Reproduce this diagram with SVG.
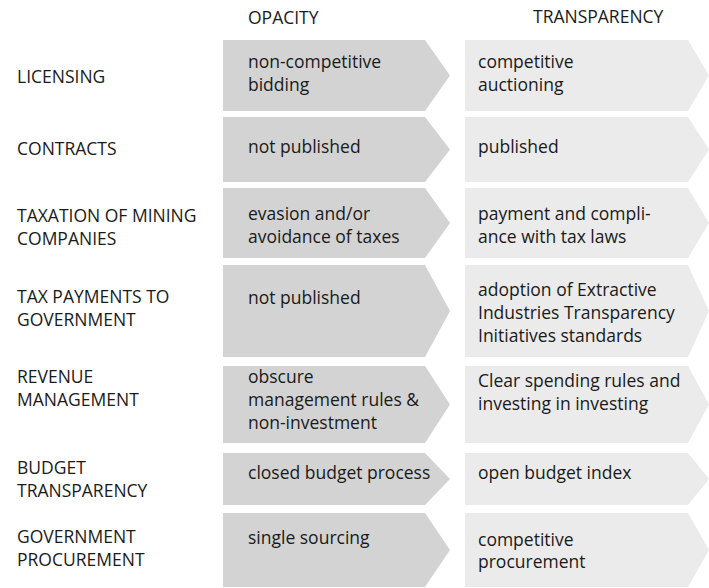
<svg xmlns="http://www.w3.org/2000/svg" width="709" height="588" viewBox="0 0 709 588">
<style>
  text { font-family: "Open Sans", "Noto Sans", "Liberation Sans", sans-serif; font-size: 17.5px; fill: #1a1a1a; }
  .lab { font-size: 17.5px; }
  .hdr { font-size: 17.5px; }
  .op { fill: #d3d3d3; }
  .tr { fill: #ebebeb; }
</style>
<rect width="709" height="588" fill="#ffffff"/>
<g id="headers">
  <text class="hdr" x="248" y="24">OPACITY</text>
  <text class="hdr" x="533" y="23">TRANSPARENCY</text>
</g>
<g id="connectors"/>
<g id="row-licensing">
  <text class="lab" x="17" y="83">LICENSING</text>
  <polygon class="op" points="223,40 425,40 450,75.5 425,111 223,111"/>
  <text x="248" y="68">non-competitive</text>
  <text x="248" y="91">bidding</text>
  <polygon class="tr" points="465,40 688,40 709,75.5 688,111 465,111"/>
  <text x="478" y="68">competitive</text>
  <text x="478" y="91">auctioning</text>
</g>
<g id="row-contracts">
  <text class="lab" x="17" y="155">CONTRACTS</text>
  <polygon class="op" points="223,117 425,117 450,149.5 425,182 223,182"/>
  <text x="248" y="153">not published</text>
  <polygon class="tr" points="465,117 688,117 709,149.5 688,182 465,182"/>
  <text x="478" y="153">published</text>
</g>
<g id="row-taxation">
  <text class="lab" x="17" y="222">TAXATION OF MINING</text>
  <text class="lab" x="17" y="245">COMPANIES</text>
  <polygon class="op" points="223,188 425,188 450,223 425,258 223,258"/>
  <text x="248" y="220">evasion and/or</text>
  <text x="248" y="243">avoidance of taxes</text>
  <polygon class="tr" points="465,188 688,188 709,223 688,258 465,258"/>
  <text x="478" y="220">payment and compli-</text>
  <text x="478" y="243">ance with tax laws</text>
</g>
<g id="row-tax-payments">
  <text class="lab" x="17" y="303">TAX PAYMENTS TO</text>
  <text class="lab" x="17" y="326">GOVERNMENT</text>
  <polygon class="op" points="223,265 425,265 450,311 425,357 223,357"/>
  <text x="248" y="304">not published</text>
  <polygon class="tr" points="465,265 688,265 709,311 688,357 465,357"/>
  <text x="478" y="296">adoption of Extractive</text>
  <text x="478" y="319">Industries Transparency</text>
  <text x="478" y="342">Initiatives standards</text>
</g>
<g id="row-revenue">
  <text class="lab" x="17" y="383">REVENUE</text>
  <text class="lab" x="17" y="406">MANAGEMENT</text>
  <polygon class="op" points="223,366 425,366 450,404.5 425,443 223,443"/>
  <text x="248" y="383">obscure</text>
  <text x="248" y="406">management rules &amp;</text>
  <text x="248" y="429">non-investment</text>
  <polygon class="tr" points="465,366 688,366 709,404.5 688,443 465,443"/>
  <text x="478" y="387">Clear spending rules and</text>
  <text x="478" y="410">investing in investing</text>
</g>
<g id="row-budget">
  <text class="lab" x="17" y="474">BUDGET</text>
  <text class="lab" x="17" y="497">TRANSPARENCY</text>
  <polygon class="op" points="223,453 425,453 450,479 425,505 223,505"/>
  <text x="248" y="479">closed budget process</text>
  <polygon class="tr" points="465,453 688,453 709,479 688,505 465,505"/>
  <text x="478" y="479">open budget index</text>
</g>
<g id="row-procurement">
  <text class="lab" x="17" y="543">GOVERNMENT</text>
  <text class="lab" x="17" y="566">PROCUREMENT</text>
  <polygon class="op" points="223,513 425,513 450,550 425,587 223,587"/>
  <text x="248" y="544">single sourcing</text>
  <polygon class="tr" points="465,513 688,513 709,550 688,587 465,587"/>
  <text x="478" y="546">competitive</text>
  <text x="478" y="568">procurement</text>
</g>
</svg>
